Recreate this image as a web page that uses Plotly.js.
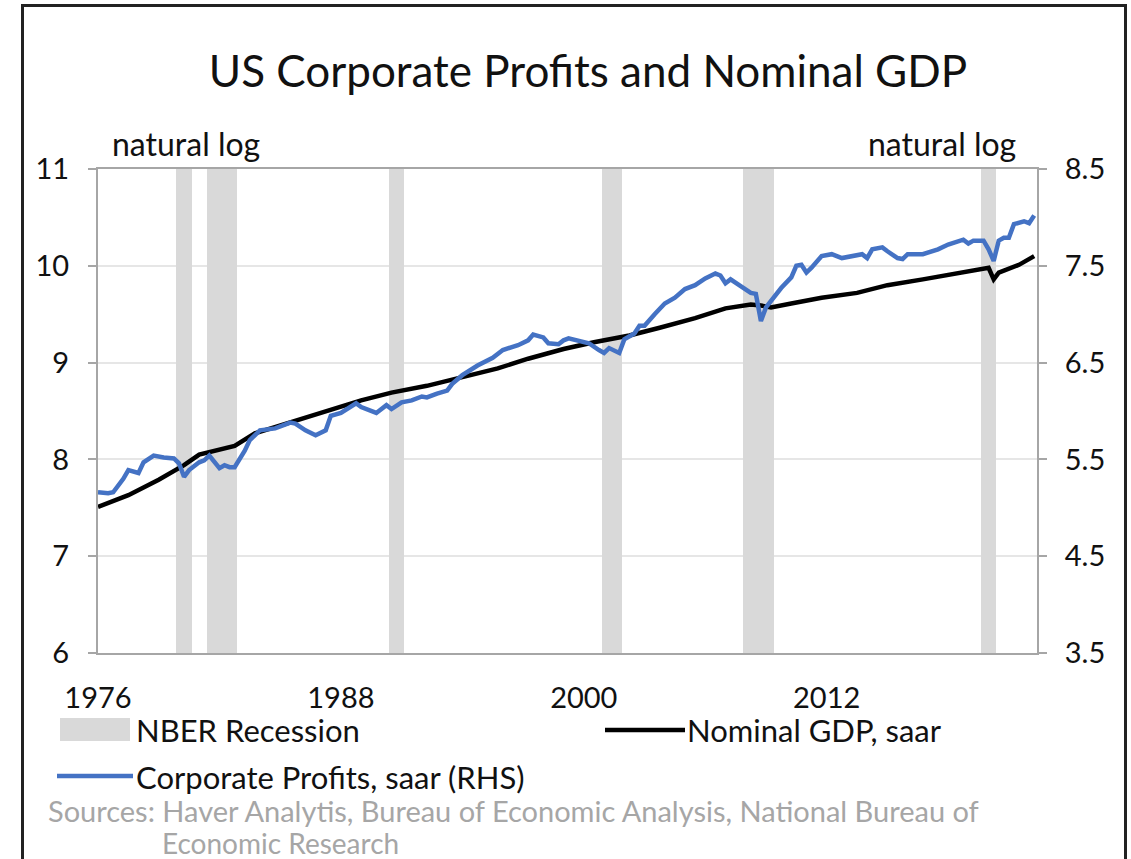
<!DOCTYPE html>
<html>
<head>
<meta charset="utf-8">
<script src="https://cdn.plot.ly/plotly-3.0.1.min.js"></script>
<style>
  html, body { margin: 0; padding: 0; background: #fff; }
  #wrap { position: relative; width: 1131px; height: 859px; overflow: hidden; }
  #chart { width: 1131px; height: 859px; }
  #frame { position: absolute; left: 21px; top: 4px; width: 1106px; height: 900px;
           border-top: 3px solid #222; border-left: 3px solid #222; border-right: 3px solid #222;
           pointer-events: none; box-sizing: border-box; }
</style>
</head>
<body>
<div id="wrap">
  <div id="chart"></div>
  <div id="frame"></div>
</div>
<script>
// ---- Data ----
const recessionQuarters = [1980.0, 1980.25, 1980.5,
  1981.5, 1981.75, 1982.0, 1982.25, 1982.5, 1982.75,
  1990.5, 1990.75, 1991.0,
  2001.0, 2001.25, 2001.5, 2001.75,
  2008.0, 2008.25, 2008.5, 2008.75, 2009.0, 2009.25,
  2019.75, 2020.0, 2020.25];
const recessionTop = recessionQuarters.map(() => 11);

const gdpYears = [1976.0, 1977.5, 1979.0, 1980.25, 1981.0, 1982.0, 1982.75, 1983.75, 1985.75, 1987.5,
  1989.0, 1990.5, 1992.25, 1994.0, 1995.75, 1997.25, 1999.0, 2000.5, 2002.25, 2003.75,
  2005.5, 2007.0, 2008.25, 2008.75, 2009.25, 2010.25, 2011.75, 2013.5, 2015.0, 2016.75,
  2018.5, 2019.75, 2020.0, 2020.25, 2020.5, 2021.5, 2022.25];
const gdpLog = [7.51, 7.63, 7.79, 7.94, 8.05, 8.10, 8.14, 8.27, 8.40, 8.51,
  8.61, 8.69, 8.76, 8.85, 8.94, 9.04, 9.14, 9.21, 9.28, 9.36,
  9.46, 9.56, 9.60, 9.59, 9.57, 9.61, 9.67, 9.72, 9.80, 9.86,
  9.92, 9.97, 9.98, 9.86, 9.93, 10.01, 10.10];

const profitYears = [1976.0, 1976.5, 1976.75, 1977.25, 1977.5, 1977.75, 1978.0, 1978.25, 1978.75, 1979.25,
  1979.75, 1980.0, 1980.25, 1980.5, 1981.0, 1981.25, 1981.5, 1982.0, 1982.25, 1982.5,
  1982.75, 1983.25, 1983.5, 1984.0, 1984.75, 1985.5, 1985.75, 1986.25, 1986.75, 1987.25,
  1987.5, 1988.0, 1988.75, 1989.0, 1989.75, 1990.25, 1990.5, 1991.0, 1991.5, 1992.0,
  1992.25, 1992.75, 1993.25, 1993.5, 1994.0, 1994.75, 1995.5, 1996.0, 1996.75, 1997.25,
  1997.5, 1998.0, 1998.25, 1998.75, 1999.0, 1999.25, 1999.75, 2000.25, 2000.75, 2001.0,
  2001.25, 2001.75, 2002.0, 2002.5, 2002.75, 2003.0, 2003.5, 2004.0, 2004.5, 2005.0,
  2005.5, 2006.0, 2006.5, 2006.75, 2007.0, 2007.25, 2007.75, 2008.25, 2008.5, 2008.75,
  2009.0, 2009.25, 2009.75, 2010.25, 2010.5, 2010.75, 2011.0, 2011.25, 2011.75, 2012.25,
  2012.75, 2013.75, 2014.0, 2014.25, 2014.75, 2015.0, 2015.5, 2015.75, 2016.0, 2016.75,
  2017.5, 2018.0, 2018.75, 2019.0, 2019.25, 2019.75, 2020.0, 2020.25, 2020.5, 2020.75,
  2021.0, 2021.25, 2021.75, 2022.0, 2022.25];
const profitLog = [5.16, 5.15, 5.16, 5.30, 5.39, 5.38, 5.36, 5.47, 5.54, 5.52,
  5.51, 5.46, 5.32, 5.39, 5.47, 5.49, 5.54, 5.41, 5.44, 5.42,
  5.42, 5.59, 5.70, 5.80, 5.82, 5.88, 5.87, 5.80, 5.75, 5.80,
  5.95, 5.98, 6.08, 6.04, 5.98, 6.06, 6.02, 6.09, 6.11, 6.15,
  6.14, 6.18, 6.21, 6.28, 6.37, 6.47, 6.55, 6.63, 6.68, 6.73,
  6.79, 6.76, 6.70, 6.69, 6.73, 6.75, 6.72, 6.70, 6.63, 6.60,
  6.65, 6.60, 6.74, 6.80, 6.88, 6.88, 7.00, 7.11, 7.17, 7.26,
  7.30, 7.37, 7.42, 7.40, 7.32, 7.36, 7.29, 7.22, 7.21, 6.93,
  7.07, 7.14, 7.27, 7.38, 7.50, 7.51, 7.43, 7.48, 7.60, 7.62,
  7.58, 7.62, 7.58, 7.67, 7.69, 7.65, 7.58, 7.57, 7.62, 7.62,
  7.67, 7.72, 7.77, 7.73, 7.76, 7.76, 7.67, 7.55, 7.76, 7.79,
  7.79, 7.93, 7.96, 7.94, 8.02];

const xTickVals = [1976, 1988, 2000, 2012];
const xTickText = ['1976', '1988', '2000', '2012'];
const leftTicks = [6, 7, 8, 9, 10, 11];
const rightTicks = [3.5, 4.5, 5.5, 6.5, 7.5, 8.5];

const titleText = 'US Corporate Profits and Nominal GDP';
const unitText = 'natural log';
const legendRecession = 'NBER Recession';
const legendGdp = 'Nominal GDP, saar';
const legendProfits = 'Corporate Profits, saar (RHS)';
const sourceLine1 = 'Sources: Haver Analytis, Bureau of Economic Analysis, National Bureau of';
const sourceLine2 = 'Economic Research';

// ---- Styling ----
const FONT = 'Lato, "Open Sans", sans-serif';
const GRAY_BAR = '#d9d9d9';
const BLUE = '#4472c4';
const AXIS_GRAY = '#a6a6a6';

// plot area in pixels
const L = 98, R = 1037, T = 169, B = 653;
const W = 1131, H = 859;
const px = x => (x - L) / (R - L);
const py = y => (B - y) / (B - T);

const traces = [
  { type: 'bar', x: recessionQuarters, y: recessionTop, width: 0.25,
    marker: { color: GRAY_BAR, line: { width: 0 } }, name: legendRecession,
    yaxis: 'y', hoverinfo: 'skip', showlegend: false },
  { type: 'scatter', mode: 'lines', x: gdpYears, y: gdpLog, name: legendGdp,
    line: { color: '#000000', width: 4.5 }, yaxis: 'y', showlegend: false },
  { type: 'scatter', mode: 'lines', x: profitYears, y: profitLog, name: legendProfits,
    line: { color: BLUE, width: 4.5 }, yaxis: 'y2', showlegend: false }
];

const layout = {
  width: W, height: H,
  margin: { l: L, r: W - R, t: T, b: H - B, pad: 0 },
  paper_bgcolor: '#ffffff', plot_bgcolor: '#ffffff',
  font: { family: FONT, color: '#1a1a1a', size: 28 },
  showlegend: false,
  bargap: 0,
  title: { text: titleText, x: 588 / W, xanchor: 'center', xref: 'container',
           y: 1 - 72 / H, yanchor: 'middle', yref: 'container',
           font: { family: FONT, size: 44, color: '#111' } },
  xaxis: {
    range: [1976, 2022.39], tickmode: 'array', tickvals: xTickVals, ticktext: xTickText,
    showgrid: false, zeroline: false, showline: true, linecolor: AXIS_GRAY, linewidth: 2,
    mirror: true, ticks: '', tickfont: { size: 29, color: '#111' }, ticklabelstandoff: 18
  },
  yaxis: {
    range: [6, 11], tickmode: 'array', tickvals: leftTicks,
    showgrid: true, gridcolor: '#e6e6e6', gridwidth: 2, zeroline: false,
    showline: true, linecolor: AXIS_GRAY, linewidth: 2,
    ticks: 'outside', ticklen: 8, tickcolor: AXIS_GRAY, tickwidth: 2,
    tickfont: { size: 29, color: '#111' }, ticklabelstandoff: 13
  },
  yaxis2: {
    range: [3.5, 8.5], tickmode: 'array', tickvals: rightTicks, tickformat: '.1f',
    overlaying: 'y', side: 'right', showgrid: false, zeroline: false,
    showline: true, linecolor: AXIS_GRAY, linewidth: 2,
    ticks: 'outside', ticklen: 8, tickcolor: AXIS_GRAY, tickwidth: 2,
    tickfont: { size: 29, color: '#111' }, ticklabelstandoff: 12
  },
  shapes: [
    // manual legend symbols
    { type: 'rect', xref: 'paper', yref: 'paper', x0: px(60), x1: px(130), y0: py(741), y1: py(718),
      fillcolor: GRAY_BAR, line: { width: 0 } },
    { type: 'line', xref: 'paper', yref: 'paper', x0: px(605), x1: px(685), y0: py(730), y1: py(730),
      line: { color: '#000', width: 4.5 } },
    { type: 'line', xref: 'paper', yref: 'paper', x0: px(57), x1: px(133), y0: py(776), y1: py(776),
      line: { color: BLUE, width: 4.5 } }
  ],
  annotations: [
    { text: unitText, xref: 'paper', yref: 'paper', x: px(110), y: py(143), xanchor: 'left', yanchor: 'middle',
      showarrow: false, font: { size: 32, color: '#111' } },
    { text: unitText, xref: 'paper', yref: 'paper', x: px(1018), y: py(143), xanchor: 'right', yanchor: 'middle',
      showarrow: false, font: { size: 32, color: '#111' } },
    { text: legendRecession, xref: 'paper', yref: 'paper', x: px(134), y: py(730), xanchor: 'left', yanchor: 'middle',
      showarrow: false, font: { size: 31, color: '#111' } },
    { text: legendGdp, xref: 'paper', yref: 'paper', x: px(685), y: py(730), xanchor: 'left', yanchor: 'middle',
      showarrow: false, font: { size: 31, color: '#111' } },
    { text: legendProfits, xref: 'paper', yref: 'paper', x: px(134), y: py(777), xanchor: 'left', yanchor: 'middle',
      showarrow: false, font: { size: 31, color: '#111' } },
    { text: sourceLine1, xref: 'paper', yref: 'paper', x: px(46), y: py(810), xanchor: 'left', yanchor: 'middle',
      showarrow: false, font: { size: 29, color: '#a6a6a6' } },
    { text: sourceLine2, xref: 'paper', yref: 'paper', x: px(160), y: py(843), xanchor: 'left', yanchor: 'middle',
      showarrow: false, font: { size: 28, color: '#a6a6a6' } }
  ]
};

Plotly.newPlot('chart', traces, layout, { displayModeBar: false, staticPlot: true });
</script>
</body>
</html>
